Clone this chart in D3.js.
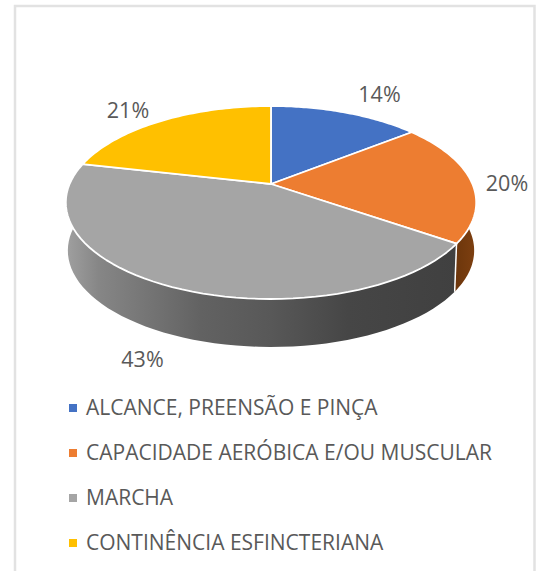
<!DOCTYPE html>
<html>
<head>
<meta charset="utf-8">
<script src="https://cdn.jsdelivr.net/npm/d3@7"></script>
<style>
  html, body { margin: 0; padding: 0; background: #fff; }
  svg { display: block; }
  text { font-family: "Open Sans", "Noto Sans", sans-serif; fill: #595959; }
</style>
</head>
<body>
<script>
'use strict';

const categories = ["ALCANCE, PREENSÃO E PINÇA", "CAPACIDADE AERÓBICA E/OU MUSCULAR", "MARCHA", "CONTINÊNCIA ESFINCTERIANA"];
const values = [14, 20, 43, 21];
const colors = ["#4472c4", "#ed7d31", "#a5a5a5", "#ffc000"];
const labelSpots = [[379.5, 102], [507, 191], [142.5, 367], [128, 118]];

const width = 536, height = 571;

// the pie is a tilted disc, so the slices go through a perspective projection
const cx = 271, cy = 184;
const a = 201.4, b = 92.95, k = 0.1917;
const depth = 48, shrink = 0.99;

function topPoint(t) {
  const u = Math.sin(t), v = Math.cos(t), w = 1 + k * v;
  return [cx + a * u / w, cy - b * v / w];
}

function bottomPoint(t) {
  const p = topPoint(t);
  return [cx + (p[0] - cx) * shrink, p[1] + depth];
}

function arcPoints(start, end, fn) {
  return d3.range(0, 61).map(i => fn(start + (end - start) * i / 60));
}

const svg = d3.select('body').append('svg')
  .attr('width', width)
  .attr('height', height);

svg.append('rect')
  .attr('width', width)
  .attr('height', height)
  .attr('fill', '#fff');

// the chart's frame, open at the bottom of the picture
svg.append('path')
  .attr('d', 'M15,571V6H534.5V571')
  .attr('fill', 'none')
  .attr('stroke', '#e2e2e2')
  .attr('stroke-width', 2.5);

const defs = svg.append('defs');

function addGradient(id, stops) {
  const g = defs.append('linearGradient')
    .attr('id', id)
    .attr('gradientUnits', 'userSpaceOnUse')
    .attr('x1', 66).attr('x2', 475)
    .attr('y1', 0).attr('y2', 0);
  stops.forEach(s => g.append('stop').attr('offset', s[0]).attr('stop-color', s[1]));
}

addGradient('wallGray', [[0, '#a0a0a0'], [0.08, '#868686'], [0.33, '#626262'], [0.5, '#585858'], [0.69, '#464646'], [1, '#3f3f3f']]);
addGradient('wallOrange', [[0.9, '#5a2c07'], [1, '#7d3f10']]);

const pie = d3.pie().sort(null)(values);
const line = d3.line();

// side walls first, the top faces cover whatever should be hidden
const wallFill = ['#2c4a80', 'url(#wallOrange)', 'url(#wallGray)', '#a67c00'];

svg.selectAll('.wall')
  .data(pie)
  .enter()
  .append('path')
    .attr('class', 'wall')
    .attr('fill', (d, i) => wallFill[i])
    .attr('d', d => line(
      arcPoints(d.startAngle, d.endAngle, topPoint)
        .concat(arcPoints(d.endAngle, d.startAngle, bottomPoint))) + 'Z');

// white seam where the orange and gray walls meet
svg.append('line')
  .attr('x1', topPoint(pie[1].endAngle)[0])
  .attr('y1', topPoint(pie[1].endAngle)[1])
  .attr('x2', bottomPoint(pie[1].endAngle)[0])
  .attr('y2', bottomPoint(pie[1].endAngle)[1])
  .attr('stroke', '#fff')
  .attr('stroke-width', 1.5);

svg.selectAll('.slice')
  .data(pie)
  .enter()
  .append('path')
    .attr('class', 'slice')
    .attr('fill', (d, i) => colors[i])
    .attr('stroke', '#fff')
    .attr('stroke-width', 1.8)
    .attr('stroke-linejoin', 'round')
    .attr('d', d => line([[cx, cy]].concat(arcPoints(d.startAngle, d.endAngle, topPoint))) + 'Z');

svg.selectAll('.pct')
  .data(values)
  .enter()
  .append('text')
    .attr('class', 'pct')
    .attr('x', (d, i) => labelSpots[i][0])
    .attr('y', (d, i) => labelSpots[i][1])
    .attr('text-anchor', 'middle')
    .style('font-size', '21.5px')
    .text(d => d + '%');

const legendY = d3.scalePoint().domain(categories).range([408, 543]);

svg.selectAll('.key')
  .data(categories)
  .enter()
  .append('rect')
    .attr('class', 'key')
    .attr('x', 69)
    .attr('y', d => legendY(d) - 4)
    .attr('width', 8)
    .attr('height', 8)
    .attr('fill', (d, i) => colors[i]);

svg.selectAll('.name')
  .data(categories)
  .enter()
  .append('text')
    .attr('class', 'name')
    .attr('x', 86)
    .attr('y', d => legendY(d) + 7)
    .style('font-size', '21px')
    .text(d => d);
</script>
</body>
</html>
